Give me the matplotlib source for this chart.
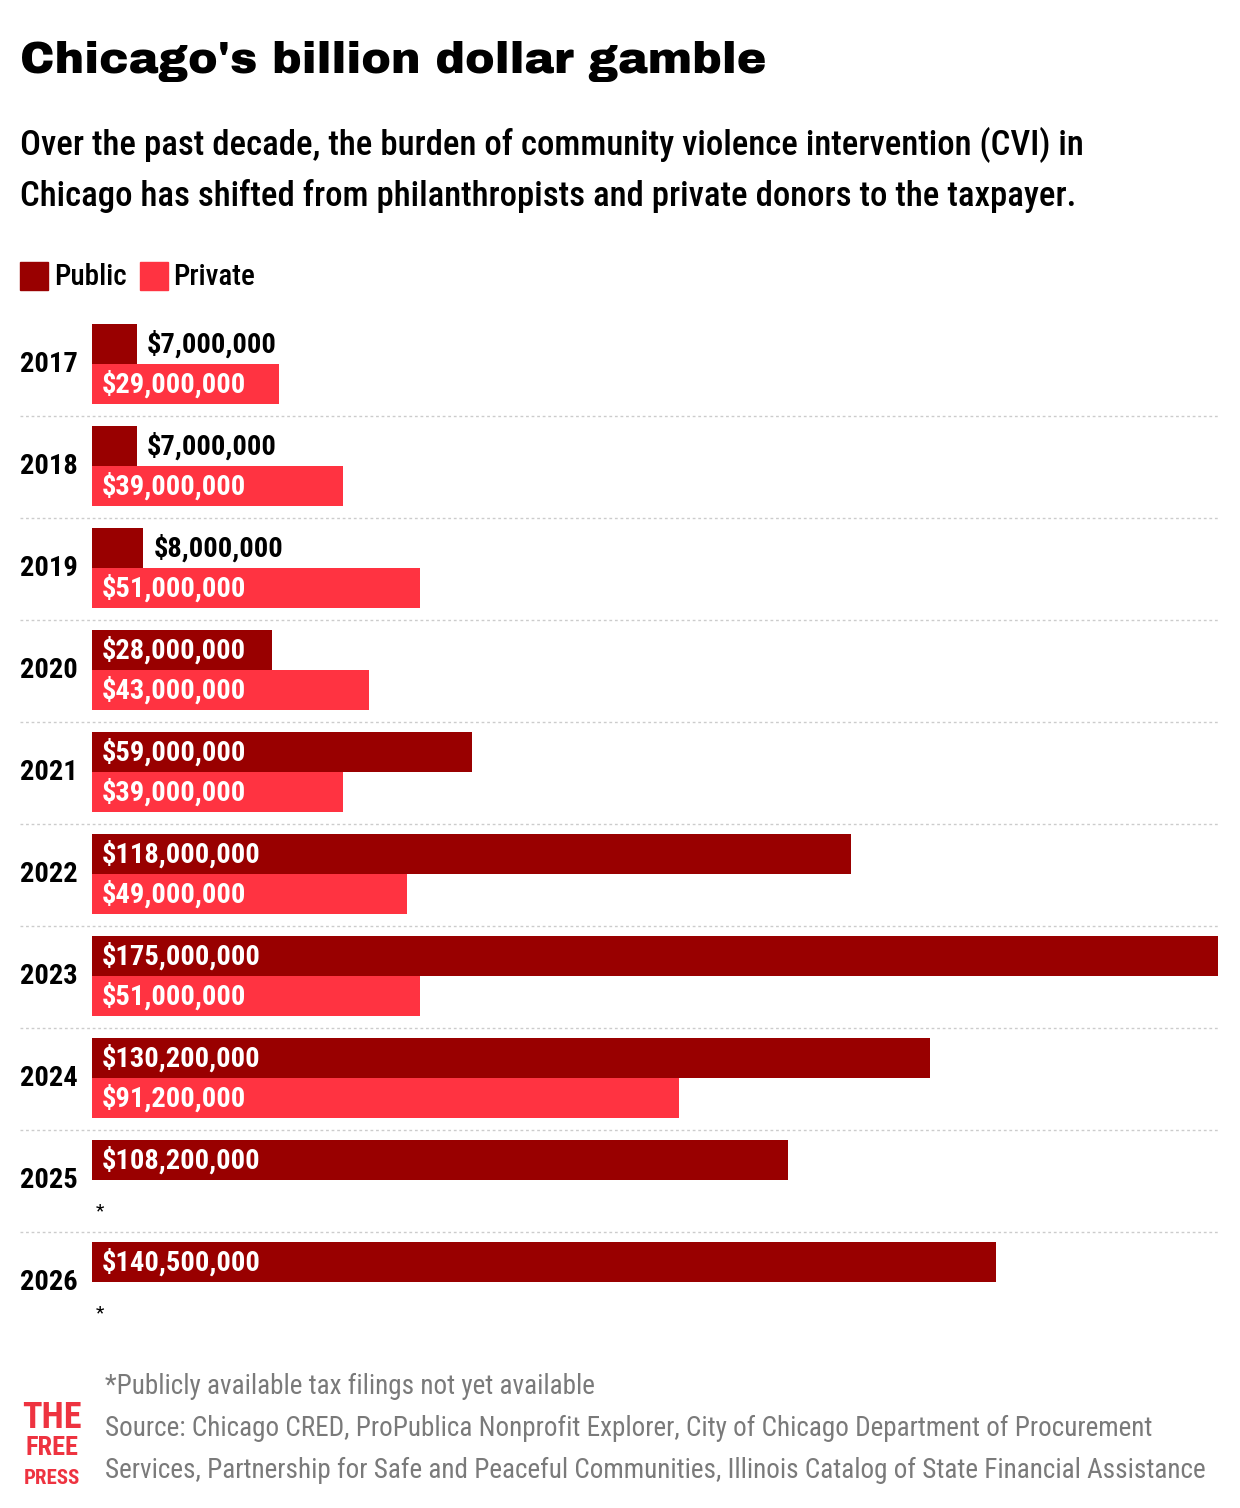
import matplotlib.pyplot as plt
from matplotlib.transforms import blended_transform_factory

years = ["2017", "2018", "2019", "2020", "2021", "2022", "2023", "2024", "2025", "2026"]
public = [7.0e6, 7.0e6, 8.0e6, 28.0e6, 59.0e6, 118.0e6, 175.0e6, 130.2e6, 108.2e6, 140.5e6]
private = [29e6, 39e6, 51e6, 43e6, 39e6, 49e6, 51e6, 91.2e6, None, None]

PUB = "#990000"
PRI = "#ff3341"
NARROW = ["Roboto Condensed", "DejaVu Sans"]

W, H = 1240, 1508
fig = plt.figure(figsize=(W / 100, H / 100), dpi=100)

# axes placed in pixel terms: bars start at x=92, 175M ends at x=1218, rows of 102 px from y=314
ax = fig.add_axes([92 / W, 1 - 1334 / H, 1126 / W, 1020 / H])
ax.set_xlim(0, 175e6)
ax.set_ylim(10, 0)
ax.axis("off")

h = 40 / 102
px = 175e6 / 1126  # value per pixel

def label(val, y):
    txt = "${:,.0f}".format(val)
    if val >= 20e6:
        ax.text(10 * px, y, txt, color="white", va="center", ha="left",
                fontsize=20.5, weight="bold", family=NARROW)
    else:
        ax.text(val + 10 * px, y, txt, color="black", va="center", ha="left",
                fontsize=20.5, weight="bold", family=NARROW)

trans = blended_transform_factory(fig.transFigure, ax.transData)
for i, yr in enumerate(years):
    yp = i + 10 / 102 + h / 2
    ax.barh(yp, public[i], height=h, color=PUB, left=0)
    label(public[i], yp)
    if private[i] is not None:
        yq = yp + h
        ax.barh(yq, private[i], height=h, color=PRI, left=0)
        label(private[i], yq)
    else:
        ax.text(4 * px, i + 0.8, "*", fontsize=14, va="center", family=NARROW)
    ax.text(20 / W, i + 0.5, yr, transform=trans, fontsize=20.5, va="center",
            ha="left", weight="bold", family=NARROW)
    if i < len(years) - 1:
        ax.plot([-72 * px, 175e6], [i + 1, i + 1], color="#cccccc", lw=1,
                ls=(0, (2, 2)), clip_on=False)

# title block
fig.text(20 / W, 1 - 62 / H, "Chicago's billion dollar gamble", fontsize=32,
         family=["Archivo Black", "DejaVu Sans"], va="center", ha="left")
fig.text(20 / W, 1 - 145 / H,
         "Over the past decade, the burden of community violence intervention (CVI) in",
         fontsize=25, weight="medium", family=NARROW, va="center")
fig.text(20 / W, 1 - 196 / H,
         "Chicago has shifted from philanthropists and private donors to the taxpayer.",
         fontsize=25, weight="medium", family=NARROW, va="center")

# legend
fig.patches.append(plt.Rectangle((20 / W, 1 - 290 / H), 28 / W, 28 / H,
                                 color=PUB, transform=fig.transFigure))
fig.text(54 / W, 1 - 277 / H, "Public", fontsize=21, weight="medium",
         family=NARROW, va="center")
fig.patches.append(plt.Rectangle((140 / W, 1 - 290 / H), 28 / W, 28 / H,
                                 color=PRI, transform=fig.transFigure))
fig.text(173 / W, 1 - 277 / H, "Private", fontsize=21, weight="medium",
         family=NARROW, va="center")

# footnotes
grey = "#7a7a7a"
fig.text(105 / W, 1 - 1386 / H, "*Publicly available tax filings not yet available",
         fontsize=19.5, color=grey, family=NARROW, va="center")
fig.text(105 / W, 1 - 1428 / H,
         "Source: Chicago CRED, ProPublica Nonprofit Explorer, City of Chicago Department of Procurement",
         fontsize=19.5, color=grey, family=NARROW, va="center")
fig.text(105 / W, 1 - 1470 / H,
         "Services, Partnership for Safe and Peaceful Communities, Illinois Catalog of State Financial Assistance",
         fontsize=19.5, color=grey, family=NARROW, va="center")

# logo
for k, word in enumerate(["THE", "FREE", "PRESS"]):
    fig.text(52 / W, 1 - (1418 + k * 30) / H, word, fontsize=[26, 19, 15][k],
             color="#ee3340", weight="bold", family=NARROW,
             va="center", ha="center")

fig.savefig("out.png", dpi=100)
